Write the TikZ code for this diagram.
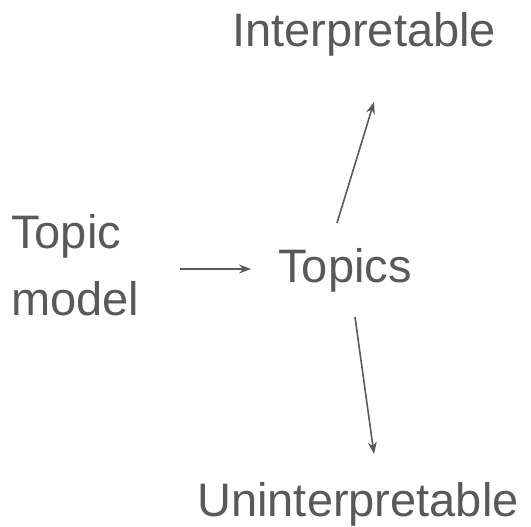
\documentclass[tikz,border=0pt]{standalone}
\usepackage{fontspec}
\setmainfont{Liberation Sans}
\usetikzlibrary{arrows.meta}
\definecolor{ink}{HTML}{595959}
\begin{document}
\begin{tikzpicture}[x=1pt,y=-1pt,
  lbl/.style={text=ink,inner sep=0pt,anchor=base,font=\fontsize{47}{67}\selectfont},
  link/.style={draw=ink,line width=1.6pt,-{Stealth[length=12pt,width=9pt,inset=4pt]}}]
\useasboundingbox (0,0) rectangle (531,527);
% labels
\node[lbl] (interp) at (364,47) {Interpretable};
\node[lbl] (topics) at (345,282) {Topics};
\node[lbl] (uninterp) at (358,516) {Uninterpretable};
% two-line label: the base anchor sits on the last line
\node[lbl,anchor=base west,align=left] (model) at (11,315) {Topic\\model};
% arrow end points
\coordinate (a1) at (180,269);
\coordinate (a2) at (251,269);
\coordinate (b1) at (337,223);
\coordinate (b2) at (374,102);
\coordinate (c1) at (355,317);
\coordinate (c2) at (374,454);
% connectors
\draw[link] (a1) -- (a2);
\draw[link] (b1) -- (b2);
\draw[link] (c1) -- (c2);
\end{tikzpicture}
\end{document}
